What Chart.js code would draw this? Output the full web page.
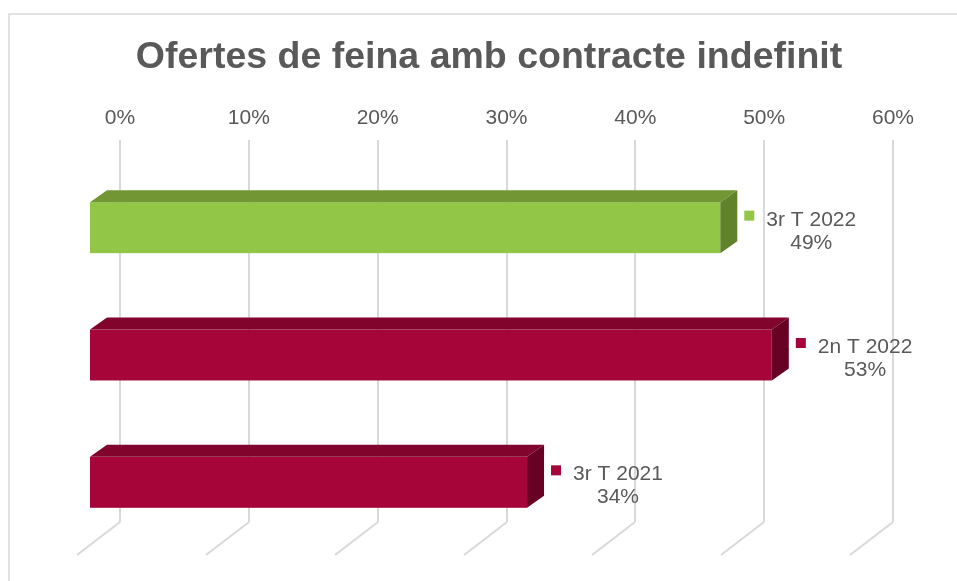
<!DOCTYPE html>
<html>
<head>
<meta charset="utf-8">
<script src="https://cdn.jsdelivr.net/npm/chart.js@4/dist/chart.umd.min.js"></script>
<style>
    html, body { margin: 0; padding: 0; background: #ffffff; }
    canvas { display: block; }
</style>
</head>
<body>
<canvas id="chart" width="957" height="581"></canvas>
<script>
const chartTitle = 'Ofertes de feina amb contracte indefinit';
const periods = ['3r T 2022', '2n T 2022', '3r T 2021'];
const shares = [0.49, 0.53, 0.34];
const tickLabels = ['0%', '10%', '20%', '30%', '40%', '50%', '60%'];

// front / top / side colours for each box
const faceColors = [
    ['#92c647', '#729634', '#5f822b'],
    ['#a6053a', '#80042c', '#680224'],
    ['#a6053a', '#80042c', '#680224']
];

const textColor = '#595959';
const gridColor = '#d9d9d9';
const shift = { x: -31, y: 24 };   // bar plane in front of the back wall
const depth = { x: 17, y: -12 };
const floor = { x: -43, y: 33 };

const boxPlugin = {
    id: 'box3d',
    beforeDraw(chart) {
        const ctx = chart.ctx;
        ctx.save();
        ctx.fillStyle = '#ffffff';
        ctx.fillRect(0, 0, chart.width, chart.height);
        ctx.strokeStyle = gridColor;
        ctx.lineWidth = 1.5;
        ctx.strokeRect(9, 14, chart.width, chart.height);
        ctx.fillStyle = textColor;
        ctx.font = 'bold 37.5px "Liberation Sans", Arial, sans-serif';
        ctx.textAlign = 'center';
        ctx.textBaseline = 'alphabetic';
        ctx.fillText(chartTitle, 489, 68);
        ctx.restore();
    },
    beforeDatasetsDraw(chart) {
        const ctx = chart.ctx;
        const xs = chart.scales.x;
        const bottom = chart.chartArea.bottom;
        ctx.save();
        ctx.strokeStyle = gridColor;
        ctx.lineWidth = 2;
        xs.ticks.forEach((t) => {
            const x = Math.round(xs.getPixelForValue(t.value));
            ctx.beginPath();
            ctx.moveTo(x, bottom);
            ctx.lineTo(x + floor.x, bottom + floor.y);
            ctx.stroke();
        });
        ctx.restore();
    },
    afterDatasetsDraw(chart) {
        const ctx = chart.ctx;
        const meta = chart.getDatasetMeta(0);
        ctx.save();
        meta.data.forEach((bar, i) => {
            const c = faceColors[i];
            const x0 = bar.base + shift.x;
            const x1 = bar.x + shift.x;
            const top = bar.y - bar.height / 2 + shift.y;
            const bot = bar.y + bar.height / 2 + shift.y;

            ctx.fillStyle = c[0];
            ctx.fillRect(x0, top, x1 - x0, bot - top);

            ctx.fillStyle = c[1];
            ctx.beginPath();
            ctx.moveTo(x0, top);
            ctx.lineTo(x1, top);
            ctx.lineTo(x1 + depth.x, top + depth.y);
            ctx.lineTo(x0 + depth.x, top + depth.y);
            ctx.closePath();
            ctx.fill();

            ctx.fillStyle = c[2];
            ctx.beginPath();
            ctx.moveTo(x1, top);
            ctx.lineTo(x1 + depth.x, top + depth.y);
            ctx.lineTo(x1 + depth.x, bot + depth.y);
            ctx.lineTo(x1, bot);
            ctx.closePath();
            ctx.fill();

            // data label: key square + period + value
            const lx = x1 + depth.x + 7;
            const ly = (top + bot) / 2 + depth.y;
            ctx.fillStyle = c[0];
            ctx.fillRect(lx, ly - 5, 10, 10);
            ctx.font = '21px "Liberation Sans", Arial, sans-serif';
            ctx.fillStyle = textColor;
            ctx.textBaseline = 'alphabetic';
            ctx.textAlign = 'center';
            const line1 = periods[i];
            const line2 = Math.round(shares[i] * 100) + '%';
            const w = ctx.measureText(line1).width;
            const cx = lx + 22 + w / 2;
            ctx.fillText(line1, cx, ly + 10);
            ctx.fillText(line2, cx, ly + 33);
        });
        ctx.restore();
    }
};

new Chart(document.getElementById('chart'), {
    type: 'bar',
    data: {
        labels: periods,
        datasets: [{
            data: shares,
            backgroundColor: 'rgba(0,0,0,0)',
            borderWidth: 0,
            barPercentage: 0.4,
            categoryPercentage: 1
        }]
    },
    options: {
        indexAxis: 'y',
        responsive: false,
        animation: false,
        devicePixelRatio: 1,
        layout: {
            padding: { top: 0, left: 120, right: 64, bottom: 59 }
        },
        plugins: {
            legend: { display: false },
            tooltip: { enabled: false },
            title: { display: false }
        },
        scales: {
            x: {
                position: 'top',
                min: 0,
                max: 0.6,
                afterFit: (scale) => { scale.height = 140; },
                grid: {
                    color: gridColor,
                    lineWidth: 2,
                    drawTicks: false
                },
                border: { display: false },
                ticks: {
                    stepSize: 0.1,
                    padding: 9,
                    color: textColor,
                    font: { family: '"Liberation Sans", Arial, sans-serif', size: 21 },
                    callback: (value, index) => tickLabels[index]
                }
            },
            y: {
                display: false
            }
        }
    },
    plugins: [boxPlugin]
});
</script>
</body>
</html>
